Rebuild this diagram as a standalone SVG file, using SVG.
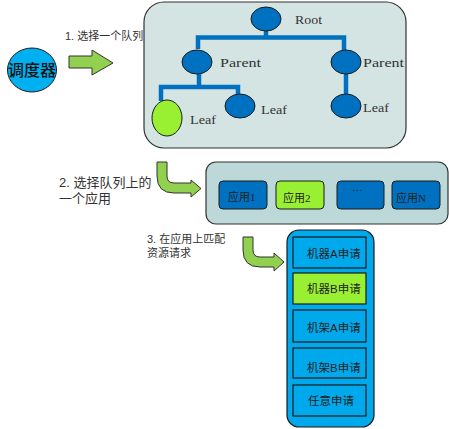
<svg xmlns="http://www.w3.org/2000/svg" width="449" height="429" viewBox="0 0 449 429">
<style>
.panel{fill:#D3E4E2;stroke:#333;stroke-width:1.2}
.panel2{fill:#BDD8D8;stroke:#333;stroke-width:1.2}
.bn{fill:#0070C0;stroke:#1a1a1a;stroke-width:1}
.gn{fill:#99F033;stroke:#1a1a1a;stroke-width:1}
.tree{fill:none;stroke:#0070C0;stroke-width:4.5}
.lat{font-family:"Liberation Serif","DejaVu Serif",serif;font-size:13px;fill:#333}
.cjk{font-family:"Liberation Sans","Noto Sans CJK SC",sans-serif;fill:#333}
.app{font-family:"Liberation Serif","Noto Sans CJK SC",serif;font-size:11px;fill:#222}
.arr{fill:#92D050;stroke:#333;stroke-width:1}
.req{fill:#00A9EC;stroke:#1a1a1a;stroke-width:1.2}
.reqt{font-family:"Liberation Sans","Noto Sans CJK SC",sans-serif;font-size:11.5px;fill:#222}
</style>

<g id="scheduler">
<ellipse cx="32" cy="70" rx="24.5" ry="22" fill="#00B0F0" stroke="#1a1a1a" stroke-width="1"/>
<text x="32" y="76" text-anchor="middle" font-family="'Noto Sans CJK SC',sans-serif" font-size="16" font-weight="500" fill="#111">调度器</text>
</g>

<g id="queues">
<rect class="panel" x="144" y="2" width="262" height="146" rx="20"/>
</g>

<g id="connectors">
<path class="tree" d="M266,30 V37.5 M198,49 V37.5 H344 V50 M199,73 V87 M161,101 V87 H238 V95 M346,74 V95"/>
<path class="arr" d="M69,56 H92 V50 L113,63 L92,75 V68 H69 Z"/>
<path class="arr" d="M157,162 H167 V176 Q167,183 174,183 H191 V180 L201,188.5 L191,197 V193 H174 Q157,193 157,176 Z"/>
<path class="arr" d="M243,237 H253 V250 Q253,257 260,257 H274 V253 L284,262 L274,271 V267 H260 Q243,267 243,250 Z"/>
</g>

<g id="root">
<ellipse class="bn" cx="266" cy="19" rx="15" ry="12"/>
<text class="lat" x="295" y="24" textLength="27" lengthAdjust="spacingAndGlyphs">Root</text>
</g>
<g id="parent-left">
<ellipse class="bn" cx="197" cy="62" rx="15" ry="12"/>
<text class="lat" x="220" y="67" textLength="41" lengthAdjust="spacingAndGlyphs">Parent</text>
</g>
<g id="parent-right">
<ellipse class="bn" cx="346" cy="62" rx="15" ry="12"/>
<text class="lat" x="363" y="67" textLength="41" lengthAdjust="spacingAndGlyphs">Parent</text>
</g>
<g id="leaf-green">
<ellipse class="gn" cx="167" cy="118" rx="15" ry="18"/>
<text class="lat" x="190" y="124" textLength="26" lengthAdjust="spacingAndGlyphs">Leaf</text>
</g>
<g id="leaf-mid">
<ellipse class="bn" cx="240" cy="106" rx="15" ry="12"/>
<text class="lat" x="261" y="114" textLength="26" lengthAdjust="spacingAndGlyphs">Leaf</text>
</g>
<g id="leaf-right">
<ellipse class="bn" cx="346" cy="106" rx="15" ry="12"/>
<text class="lat" x="363" y="112" textLength="26" lengthAdjust="spacingAndGlyphs">Leaf</text>
</g>

<g id="label1">
<text class="cjk" x="65" y="40" font-size="11">1. 选择一个队列</text>
</g>
<g id="label2">
<text class="cjk" x="59" y="187" font-size="13">2. 选择队列上的</text>
<text class="cjk" x="59" y="203" font-size="13">一个应用</text>
</g>
<g id="label3">
<text class="cjk" x="147" y="243" font-size="11">3. 在应用上匹配</text>
<text class="cjk" x="147" y="257" font-size="11">资源请求</text>
</g>

<g id="apps">
<rect class="panel2" x="206" y="162" width="242" height="62" rx="10"/>
</g>
<g id="app1">
<rect class="bn" x="219" y="181" width="48" height="28" rx="4"/>
<text class="app" x="228" y="201">应用1</text>
</g>
<g id="app2">
<rect class="gn" x="276" y="181" width="48" height="28" rx="4"/>
<text class="app" x="283" y="202">应用2</text>
</g>
<g id="app-dots">
<rect class="bn" x="337" y="181" width="47" height="28" rx="4"/>
<text class="app" x="352" y="191">…</text>
</g>
<g id="appN">
<rect class="bn" x="392" y="181" width="48" height="28" rx="4"/>
<text class="app" x="396" y="202">应用N</text>
</g>

<g id="requests">
<rect class="req" x="287" y="230" width="87" height="197" rx="12"/>
</g>
<g id="req1">
<rect class="req" x="293" y="237" width="73" height="31"/>
<text class="reqt" x="307" y="258">机器A申请</text>
</g>
<g id="req2">
<rect x="293" y="273" width="73" height="31" fill="#99F033" stroke="#1a1a1a" stroke-width="1.2"/>
<text class="reqt" x="307" y="293">机器B申请</text>
</g>
<g id="req3">
<rect class="req" x="293" y="310" width="73" height="32"/>
<text class="reqt" x="307" y="332">机架A申请</text>
</g>
<g id="req4">
<rect class="req" x="293" y="348" width="73" height="30"/>
<text class="reqt" x="307" y="372">机架B申请</text>
</g>
<g id="req5">
<rect class="req" x="293" y="385" width="73" height="31"/>
<text class="reqt" x="308" y="405">任意申请</text>
</g>
</svg>
